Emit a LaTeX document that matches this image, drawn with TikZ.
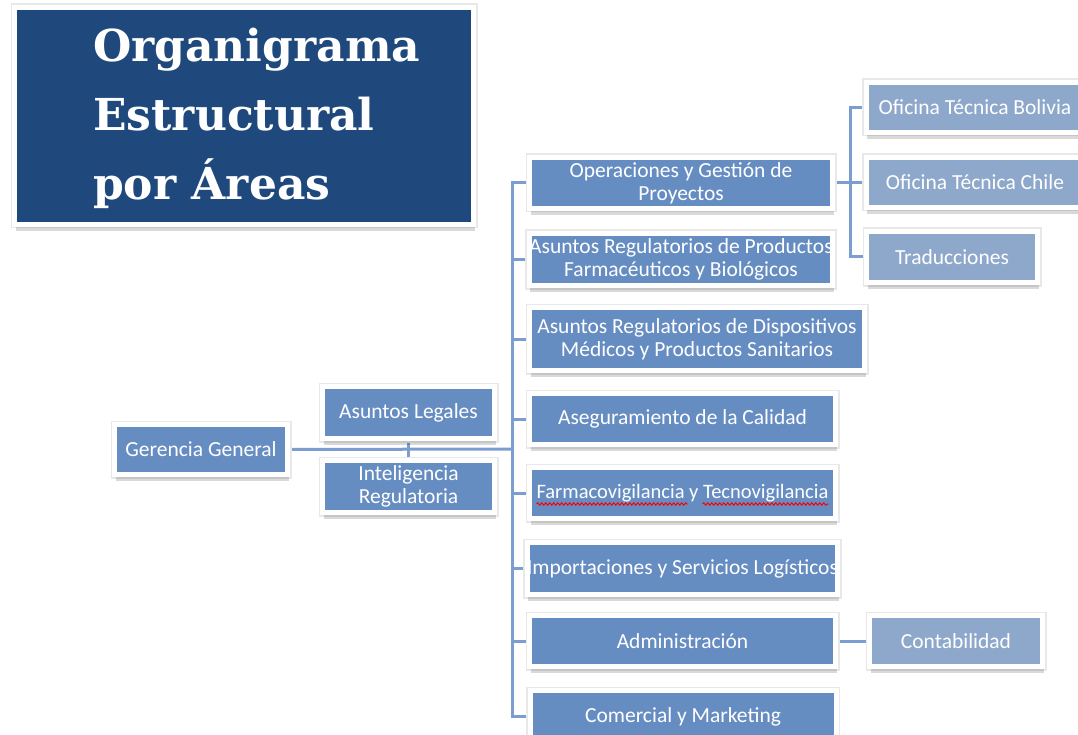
\documentclass[tikz,border=0pt]{standalone}
\usepackage{fontspec}
\setmainfont{Carlito}
\newfontfamily\titlefont{DejaVu Serif}
\usetikzlibrary{shadows,backgrounds,decorations.pathmorphing}
\definecolor{titleblue}{HTML}{1F497D}
\definecolor{unitblue}{HTML}{668DC2}
\definecolor{subblue}{HTML}{8EA8CC}
\definecolor{linkblue}{HTML}{7C9DD0}
\tikzset{
  unit/.style={rectangle, fill=unitblue, draw=white, line width=5pt, text=white, align=center, inner sep=0pt,
    font=\fontsize{21.5}{23}\selectfont,
    preaction={draw=black!9, line width=8pt},
    drop shadow={shadow xshift=1pt, shadow yshift=-6.5pt, fill=black, opacity=0.15}},
  subunit/.style={unit, fill=subblue},
  link/.style={draw=linkblue, line width=3pt},
  spellwave/.style={draw=red, line width=1pt, decorate, decoration={snake, amplitude=1.2pt, segment length=4pt}}
}
\begin{document}
\begin{tikzpicture}[x=1pt, y=-1pt]
\useasboundingbox (0,0) rectangle (1078,735);
\node[unit, fill=titleblue, minimum width=459pt, minimum height=217pt] (title) at (244,116) {};
\node[anchor=north west, inner sep=0pt, text=white, align=left, font=\titlefont\bfseries\fontsize{44}{69}\selectfont] (titletext) at (93,28) {Organigrama\\Estructural\\por Áreas};
\node[unit, minimum width=173pt, minimum height=50pt] (gerencia) at (201,449.5) {Gerencia General};
\node[unit, minimum width=172pt, minimum height=52pt] (legales) at (408.5,412.5) {Asuntos Legales};
\node[unit, minimum width=172pt, minimum height=52pt] (inteligencia) at (408.5,486.5) {Inteligencia\\Regulatoria};
\node[unit, minimum width=303pt, minimum height=51pt] (operaciones) at (681,183) {Operaciones y Gestión de\\Proyectos};
\node[unit, minimum width=303pt, minimum height=52pt] (farmaceuticos) at (681,259.5) {Asuntos Regulatorios de Productos\\Farmacéuticos y Biológicos};
\node[unit, minimum width=335pt, minimum height=63pt] (dispositivos) at (697,339) {Asuntos Regulatorios de Dispositivos\\Médicos y Productos Sanitarios};
\node[unit, minimum width=306pt, minimum height=51pt] (calidad) at (682.5,419) {Aseguramiento de la Calidad};
\node[unit, minimum width=306pt, minimum height=51pt, font=\fontsize{20.5}{23}\selectfont] (vigilancia) at (682.5,493) {Farmacovigilancia y Tecnovigilancia};
\node[unit, minimum width=306pt, minimum height=52pt] (importaciones) at (682.5,568.5) {Importaciones y Servicios Logísticos};
\node[unit, minimum width=306pt, minimum height=51pt] (administracion) at (682.5,641) {Administración};
\node[unit, minimum width=306pt, minimum height=52pt] (comercial) at (683,716.5) {Comercial y Marketing};
\node[subunit, minimum width=218pt, minimum height=50pt] (bolivia) at (975,107.5) {Oficina Técnica Bolivia};
\node[subunit, minimum width=218pt, minimum height=50pt] (chile) at (975,182.5) {Oficina Técnica Chile};
\node[subunit, minimum width=171pt, minimum height=51pt] (traducciones) at (952,257) {Traducciones};
\node[subunit, minimum width=173pt, minimum height=51pt] (contabilidad) at (956,641) {Contabilidad};
\draw[spellwave] ([xshift=-146pt, yshift=-11pt]vigilancia.center) -- ([xshift=5pt, yshift=-11pt]vigilancia.center);
\draw[spellwave] ([xshift=20pt, yshift=-11pt]vigilancia.center) -- ([xshift=146pt, yshift=-11pt]vigilancia.center);
\coordinate (hub) at (512,449);
\coordinate (hubops) at (850,183);
\begin{scope}[on background layer]
\draw[link] (gerencia.east) -- (hub);
\draw[link] (legales.south) -- (inteligencia.north);
\foreach \n in {operaciones,farmaceuticos,dispositivos,calidad,vigilancia,importaciones,administracion,comercial}
  \draw[link] (hub) |- (\n.west);
\draw[link] (operaciones.east) -- (hubops);
\foreach \n in {bolivia,chile,traducciones}
  \draw[link] (hubops) |- (\n.west);
\draw[link] (administracion.east) -- (contabilidad.west);
\end{scope}
\end{tikzpicture}
\end{document}
